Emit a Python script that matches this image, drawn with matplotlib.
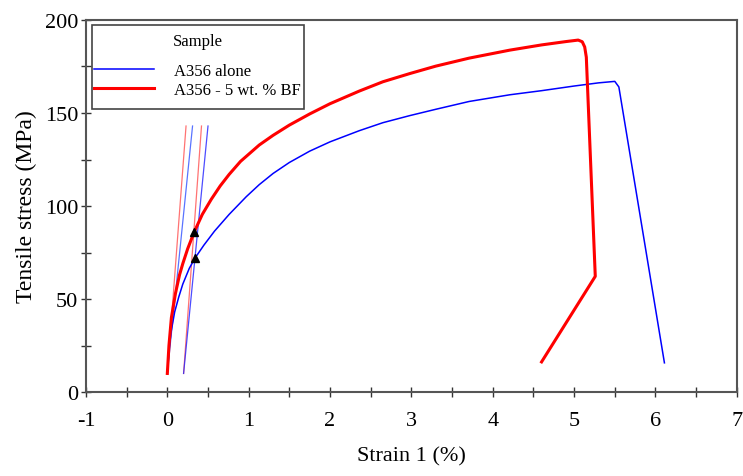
import matplotlib
matplotlib.use("Agg")
import matplotlib.pyplot as plt
from matplotlib.ticker import MultipleLocator
from matplotlib.offsetbox import VPacker, DrawingArea

plt.rcParams["font.family"] = ["Liberation Serif", "DejaVu Serif"]
plt.rcParams["axes.unicode_minus"] = False

# A356 alone (blue)
blue_strain = [0, 0.02, 0.045, 0.09, 0.14, 0.19, 0.27, 0.34, 0.45, 0.58, 0.76, 0.97,
               1.13, 1.30, 1.50, 1.75, 2.00, 2.36, 2.65, 2.98, 3.30, 3.71, 4.21,
               4.60, 5.00, 5.30, 5.50, 5.55, 6.11]
blue_stress = [10, 22, 32, 43, 51, 58, 66.5, 72, 79, 86.5, 95.5, 105,
               111.5, 117.5, 123.4, 129.5, 134.5, 140.5, 144.8, 148.6, 152, 156.2, 159.8,
               162, 164.5, 166.2, 167, 164, 15.7]

# A356 - 5 wt. % BF (red)
red_strain = [0, 0.02, 0.05, 0.10, 0.15, 0.19, 0.25, 0.33, 0.43, 0.54, 0.65, 0.76,
              0.90, 1.13, 1.30, 1.50, 1.75, 2.00, 2.36, 2.65, 2.98, 3.30, 3.71,
              4.21, 4.60, 4.90, 5.05, 5.10, 5.13, 5.15, 5.26, 4.60]
red_stress = [10, 25, 40, 53, 63, 69, 77, 86, 95.5, 103.6, 110.8, 117,
              124, 132.8, 138, 143.5, 149.5, 155, 161.8, 166.8, 171.2, 175.2, 179.5,
              183.8, 186.6, 188.4, 189.2, 188.3, 185.5, 180, 62.2, 16.2]

# elastic and 0.2 % offset lines (start, end)
red_elastic = ([0, 0.23], [10, 143])
red_offset = ([0.2, 0.42], [10, 143])
blue_elastic = ([0, 0.31], [10, 143])
blue_offset = ([0.2, 0.50], [10, 143])

# yield points
yield_strain = [0.33, 0.34]
yield_stress = [86, 72]

fig = plt.figure(figsize=(7.43, 4.77), dpi=100)
ax = fig.add_axes([0.1157, 0.176, 0.876, 0.780])

ax.plot(*red_elastic, color="#ff5050", lw=0.9, alpha=0.8)
ax.plot(*blue_elastic, color="#3050ff", lw=0.9, alpha=0.8)
ax.plot(*red_offset, color="#ff5050", lw=0.9, alpha=0.8)
ax.plot(*blue_offset, color="#2020ff", lw=0.9, alpha=0.8)

ax.plot(blue_strain, blue_stress, color="#0000ff", lw=1.1, label="A356 alone")
ax.plot(red_strain, red_stress, color="#ff0000", lw=2.2, label="A356 - 5 wt. % BF")
ax.plot(yield_strain, yield_stress, "^", color="black", ms=5.5, ls="none")

ax.set_xlim(-1, 7)
ax.set_ylim(0, 200)
ax.xaxis.set_major_locator(MultipleLocator(1))
ax.xaxis.set_minor_locator(MultipleLocator(0.5))
ax.yaxis.set_major_locator(MultipleLocator(50))
ax.yaxis.set_minor_locator(MultipleLocator(25))
ax.tick_params(which="both", direction="inout", length=7, width=1.0,
               color="#333333", labelsize=16)
ax.tick_params(axis="x", pad=10)
ax.tick_params(axis="y", pad=2)
for s in ax.spines.values():
    s.set_color("#555555")
    s.set_linewidth(1.5)

ax.set_xlabel("Strain 1 (%)", fontsize=16, labelpad=12)
ax.set_ylabel("Tensile stress (MPa)", fontsize=17, labelpad=6)

leg = ax.legend(loc="upper left", bbox_to_anchor=(0.009, 0.987), title="Sample",
                fontsize=12, title_fontsize=12, handlelength=3.6, handletextpad=1.2,
                borderpad=0.15, labelspacing=0.2, borderaxespad=0,
                fancybox=False, framealpha=1)
leg.get_frame().set_edgecolor("#444444")
leg.get_frame().set_linewidth(1.2)
# extra vertical room above the title and below the entries, like the original
box = leg._legend_box
top_pad = VPacker(children=[DrawingArea(1, 4), leg._legend_title_box], pad=0, sep=0, align="center")
bot_pad = VPacker(children=[leg._legend_handle_box, DrawingArea(1, 6)], pad=0, sep=0, align="left")
for b in (top_pad, bot_pad):
    b.set_figure(fig)
box._children[0] = top_pad
box._children[1] = bot_pad
box.sep = 10

fig.savefig("out.png", dpi=100)
